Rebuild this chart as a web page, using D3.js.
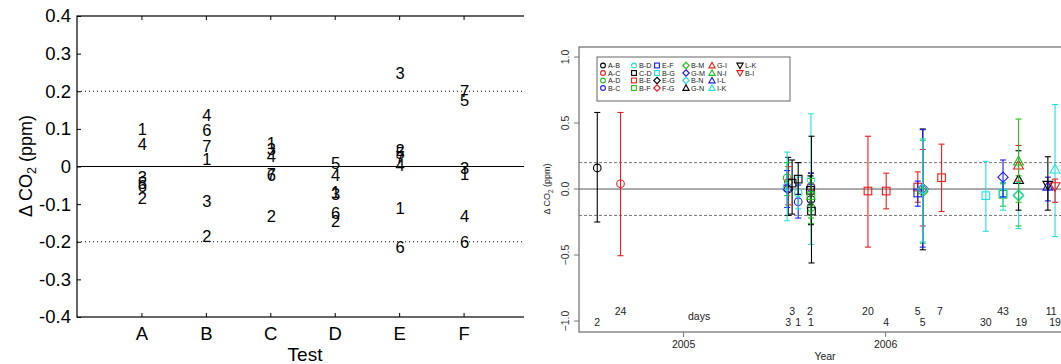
<!DOCTYPE html>
<html><head><meta charset="utf-8">
<script src="https://cdn.jsdelivr.net/npm/d3@7"></script>
<style>body{margin:0;background:#fff} svg{display:block} text{font-family:"Liberation Sans",Arial,sans-serif}</style>
</head><body><svg id="c" width="1061" height="364"></svg>
<script>
// ---------- Left panel data ----------
const tests = ["A","B","C","D","E","F"];
const leftTicks = [-0.4,-0.3,-0.2,-0.1,0,0.1,0.2,0.3,0.4];
const leftTickLabels = ["-0.4","-0.3","-0.2","-0.1","0","0.1","0.2","0.3","0.4"];
const instrumentIds = ["1","2","3","4","5","6","7"];
const inst1 = [0.100, 0.019, 0.063, -0.068, -0.110, -0.020];
const inst2 = [-0.085, -0.184, -0.133, -0.146, 0.045, null];
const inst3 = [-0.028, -0.093, 0.047, -0.073, 0.248, -0.005];
const inst4 = [0.059, 0.137, 0.028, -0.022, 0.005, -0.133];
const inst5 = [-0.045, null, null, 0.010, 0.035, 0.176];
const inst6 = [-0.053, 0.097, -0.022, -0.124, -0.213, -0.201];
const inst7 = [null, 0.053, -0.020, null, 0.025, 0.200];
const instrumentValues = [inst1, inst2, inst3, inst4, inst5, inst6, inst7];

// ---------- Right panel data ----------
const pairNames = ["A-B","A-C","A-D","B-C","B-D","C-D","B-E","B-F","E-F","B-G","E-G","F-G","B-M","G-M","B-N","G-N","G-I","N-I","I-L","I-K","L-K","B-I"];
// [date, mean, low, high]
const pairData = [
  [["2004-07-30",0.16,-0.25,0.58],["2005-07-10",0.00,-0.20,0.24],["2005-08-20",-0.08,-0.27,0.12]],
  [["2004-09-10",0.04,-0.505,0.58],["2005-07-10",0.05,-0.12,0.17],["2005-08-20",0.02,-0.10,0.12]],
  [["2005-07-08",0.085,-0.05,0.20],["2005-08-20",-0.14,-0.26,-0.02]],
  [["2005-07-08",0.005,-0.14,0.14],["2005-07-28",-0.096,-0.22,0.03],["2005-08-20",0.01,-0.10,0.12]],
  [["2005-07-08",0.02,-0.24,0.28],["2005-07-28",-0.03,-0.15,0.09],["2005-08-20",0.07,-0.42,0.57]],
  [["2005-07-17",0.045,-0.19,0.22],["2005-07-28",0.075,-0.04,0.20],["2005-08-19",-0.01,-0.12,0.10],["2005-08-21",-0.167,-0.56,0.40]],
  [["2005-12-01",-0.015,-0.44,0.40],["2006-01-03",-0.015,-0.15,0.12],["2006-03-01",0.015,-0.10,0.13],["2006-04-13",0.086,-0.17,0.34]],
  [["2005-08-20",-0.05,-0.22,0.08],["2006-08-02",-0.04,-0.13,0.04]],
  [["2006-03-01",-0.03,-0.13,0.06]],
  [["2006-07-02",-0.05,-0.32,0.21],["2006-08-02",-0.03,-0.16,0.05]],
  [["2006-03-10",0.0,-0.46,0.455]],
  [["2006-03-10",0.005,-0.28,0.30]],
  [["2006-03-10",-0.02,-0.41,0.37],["2006-08-30",-0.05,-0.28,0.10]],
  [["2006-03-10",0.0,-0.44,0.45],["2006-08-02",0.09,-0.06,0.22]],
  [["2006-03-10",0.0,-0.40,0.38],["2006-08-30",-0.045,-0.30,0.05]],
  [["2006-08-30",0.07,-0.16,0.29]],
  [["2006-08-30",0.18,0.06,0.33]],
  [["2006-08-30",0.21,-0.10,0.53]],
  [["2006-10-22",0.02,-0.09,0.09]],
  [["2006-11-04",0.15,-0.36,0.64]],
  [["2006-10-22",0.03,-0.16,0.245]],
  [["2006-11-04",0.02,-0.10,0.075]]
];
const rightTicks = [-1,-0.5,0,0.5,1];
const yearTicks = ["2005-01-01","2006-01-01"];
const yearLabels = ["2005","2006"];
const dayRow1 = [["2004-09-10","24"],["2005-07-17","3"],["2005-08-18","2"],["2005-12-01","20"],["2006-03-01","5"],["2006-04-10","7"],["2006-08-02","43"],["2006-10-28","11"]];
const dayRow2 = [["2004-07-30","2"],["2005-07-10","3"],["2005-07-28","1"],["2005-08-20","1"],["2006-01-03","4"],["2006-03-10","5"],["2006-07-02","30"],["2006-09-04","19"],["2006-11-04","19"]];
const daysLabelDate = "2005-01-30";

const parse = d3.timeParse("%Y-%m-%d");
const svg = d3.select("#c");

// ================= LEFT PANEL =================
const xL = d3.scaleLinear().domain([0,7]).range([77,528]);
const yL = d3.scaleLinear().domain([-0.4,0.4]).range([317,16]);
svg.append("clipPath").attr("id","clipL").append("rect").attr("x",0).attr("y",0).attr("width",524).attr("height",364);
const L = svg.append("g").attr("clip-path","url(#clipL)");

L.append("line").attr("x1",xL(0)).attr("x2",xL(7)).attr("y1",yL(0)).attr("y2",yL(0)).attr("stroke","#000").attr("stroke-width",1);
[0.2,-0.2].forEach(v=>{
  L.append("line").attr("x1",xL(0)).attr("x2",xL(7)).attr("y1",yL(v)).attr("y2",yL(v))
   .attr("stroke","#000").attr("stroke-width",1).attr("stroke-dasharray","1,3");
});
L.append("rect").attr("x",xL(0)).attr("y",yL(0.4)).attr("width",xL(7)-xL(0)).attr("height",yL(-0.4)-yL(0.4))
 .attr("fill","none").attr("stroke","#000").attr("stroke-width",1.2);
const axL = d3.axisLeft(yL).tickValues(leftTicks).tickSize(-4).tickFormat((d,i)=>leftTickLabels[i]).tickPadding(9);
const gL = svg.append("g").attr("transform",`translate(${xL(0)},0)`).call(axL);
const axR = d3.axisRight(yL).tickValues(leftTicks).tickSize(-4).tickFormat("");
L.append("g").attr("transform",`translate(${xL(7)},0)`).call(axR);
const axB = d3.axisBottom(xL).tickValues(d3.range(1,7)).tickSize(-4).tickFormat((d)=>tests[d-1]).tickPadding(10);
const gB = svg.append("g").attr("transform",`translate(0,${yL(-0.4)})`).call(axB);
const axT = d3.axisTop(xL).tickValues(d3.range(1,7)).tickSize(-4).tickFormat("");
L.append("g").attr("transform",`translate(0,${yL(0.4)})`).call(axT);
[gL,gB].forEach(g=>{ g.select(".domain").remove(); g.selectAll("text").attr("font-size",18.5).attr("fill","#000").attr("font-family","Liberation Sans, Arial"); g.selectAll("line").attr("stroke","#000");});
svg.selectAll(".domain").remove();
gL.selectAll("text").attr("x",-6);
gB.selectAll("text").attr("y",10);

instrumentValues.forEach((vals,k)=>{
  vals.forEach((v,i)=>{
    if(v===null) return;
    L.append("text").attr("x",xL(i+1)+1).attr("y",yL(v)).attr("dy","0.36em")
     .attr("text-anchor","middle").attr("font-size",16.5).attr("fill","#000").text(instrumentIds[k]);
  });
});
svg.append("text").attr("x",305).attr("y",361).attr("text-anchor","middle").attr("font-size",19).text("Test");
const yt = svg.append("text").attr("transform","translate(32,166) rotate(-90)").attr("text-anchor","middle").attr("font-size",18);
yt.append("tspan").text("\u0394 CO");
yt.append("tspan").attr("font-size",12.5).attr("dy",4).text("2");
yt.append("tspan").attr("dy",-4).text(" (ppm)");

// ================= RIGHT PANEL =================
const xR = d3.scaleTime().domain([parse("2004-06-27"), parse("2006-12-01")]).range([579,1070]);
const yR = d3.scaleLinear().domain([-1.083,1.076]).range([332,47]);
const colors = ["#000000","#ee1c1c","#1fbf1f","#1c1cee","#22e0e0"];
const R = svg.append("g");

R.append("line").attr("x1",579).attr("x2",1070).attr("y1",yR(0)).attr("y2",yR(0)).attr("stroke","#444").attr("stroke-width",0.9);
[0.2,-0.2].forEach(v=>{
  R.append("line").attr("x1",579).attr("x2",1070).attr("y1",yR(v)).attr("y2",yR(v))
   .attr("stroke","#666").attr("stroke-width",0.9).attr("stroke-dasharray","3,2");
});
R.append("rect").attr("x",579).attr("y",47).attr("width",491).attr("height",285)
 .attr("fill","none").attr("stroke","#777").attr("stroke-width",1.3);

const ayR = d3.axisLeft(yR).tickValues(rightTicks).tickSize(5).tickFormat(d3.format(".1f"));
const gyR = svg.append("g").attr("transform","translate(579,0)").call(ayR);
gyR.select(".domain").remove();
gyR.selectAll("line").attr("stroke","#777");
gyR.selectAll("text").attr("font-size",10.5).attr("fill","#333").attr("text-anchor","middle")
   .attr("x",0).attr("dy",0).attr("transform",d=>`translate(-10,${yR(d)}) rotate(-90)`).attr("y",0);
gyR.selectAll(".tick").attr("transform",null);
gyR.selectAll(".tick line").attr("y1",d=>yR(d)).attr("y2",d=>yR(d));
const axRB = d3.axisBottom(xR).tickValues(yearTicks.map(parse)).tickSize(5).tickFormat((d,i)=>yearLabels[i]).tickPadding(4);
const gxR = svg.append("g").attr("transform","translate(0,332)").call(axRB);
gxR.select(".domain").remove();
gxR.selectAll("line").attr("stroke","#777");
gxR.selectAll("text").attr("font-size",10.5).attr("fill","#222");
svg.append("text").attr("x",825).attr("y",360).attr("text-anchor","middle").attr("font-size",10.5).attr("fill","#222").text("Year");
const yt2 = svg.append("text").attr("transform","translate(550,189) rotate(-90)").attr("text-anchor","middle").attr("font-size",9).attr("fill","#222");
yt2.append("tspan").text("\u0394 CO");
yt2.append("tspan").attr("font-size",6.5).attr("dy",2.5).text("2");
yt2.append("tspan").attr("dy",-2.5).text(" (ppm)");

function drawSymbol(g, shape, cx, cy, s, color, sw){
  if(shape===0){
    g.append("circle").attr("cx",cx).attr("cy",cy).attr("r",s).attr("fill","none").attr("stroke",color).attr("stroke-width",sw);
  } else if(shape===1){
    g.append("rect").attr("x",cx-s).attr("y",cy-s).attr("width",2*s).attr("height",2*s).attr("fill","none").attr("stroke",color).attr("stroke-width",sw);
  } else if(shape===2){
    const d=s*1.35;
    g.append("path").attr("d",`M${cx},${cy-d}L${cx+d},${cy}L${cx},${cy+d}L${cx-d},${cy}Z`).attr("fill","none").attr("stroke",color).attr("stroke-width",sw);
  } else if(shape===3){
    const d=s*1.3;
    g.append("path").attr("d",`M${cx},${cy-d}L${cx+d},${cy+d*0.75}L${cx-d},${cy+d*0.75}Z`).attr("fill","none").attr("stroke",color).attr("stroke-width",sw);
  } else {
    const d=s*1.3;
    g.append("path").attr("d",`M${cx},${cy+d}L${cx+d},${cy-d*0.75}L${cx-d},${cy-d*0.75}Z`).attr("fill","none").attr("stroke",color).attr("stroke-width",sw);
  }
}

pairData.forEach((pts,i)=>{
  const color = colors[i%5], shape = Math.floor(i/5);
  const g = R.append("g");
  pts.forEach(p=>{
    const x = xR(parse(p[0]));
    g.append("line").attr("x1",x).attr("x2",x).attr("y1",yR(p[2])).attr("y2",yR(p[3])).attr("stroke",color).attr("stroke-width",1.1);
    [p[2],p[3]].forEach(v=>g.append("line").attr("x1",x-3).attr("x2",x+3).attr("y1",yR(v)).attr("y2",yR(v)).attr("stroke",color).attr("stroke-width",1.1));
    drawSymbol(g, shape, x, yR(p[1]), 3.8, color, 1.1);
  });
});

dayRow1.forEach(d=>svg.append("text").attr("x",xR(parse(d[0]))).attr("y",311).attr("dy","0.35em").attr("text-anchor","middle").attr("font-size",10.5).attr("fill","#222").text(d[1]));
dayRow2.forEach(d=>svg.append("text").attr("x",xR(parse(d[0]))).attr("y",322).attr("dy","0.35em").attr("text-anchor","middle").attr("font-size",10.5).attr("fill","#222").text(d[1]));
svg.append("text").attr("x",xR(parse(daysLabelDate))).attr("y",316).attr("dy","0.35em").attr("text-anchor","middle").attr("font-size",10.5).attr("fill","#222").text("days");

const lg = svg.append("g");
lg.append("rect").attr("x",597).attr("y",57).attr("width",193).attr("height",44).attr("fill","#fff").attr("stroke","#666").attr("stroke-width",1);
const colX = [603,634,657,686,712,740];
const rowY = [65.5,73,80.5,88];
pairNames.forEach((name,i)=>{
  const cx = colX[Math.floor(i/4)], cy = rowY[i%4];
  drawSymbol(lg, Math.floor(i/5), cx, cy, 2.4, colors[i%5], 1.1);
  lg.append("text").attr("x",cx+5).attr("y",cy).attr("dy","0.35em").attr("font-size",7.2).attr("fill","#222").text(name);
});
</script></body></html>
